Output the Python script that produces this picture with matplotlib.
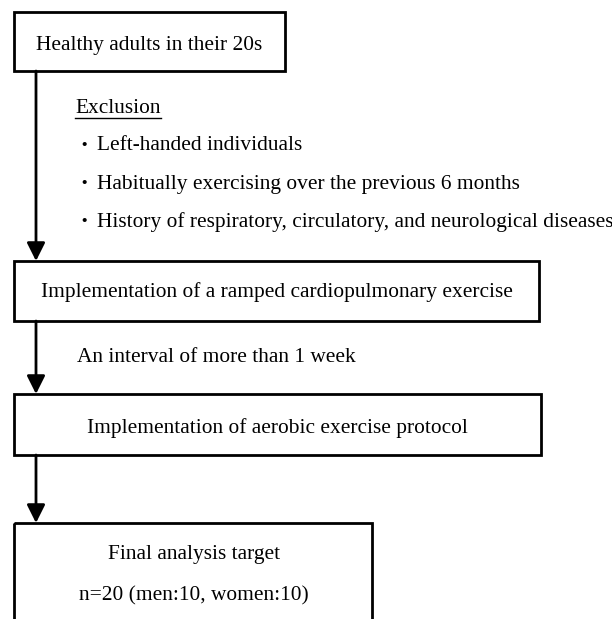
import matplotlib
matplotlib.use("Agg")
import matplotlib.pyplot as plt
from matplotlib.patches import Rectangle

# ---- content ----
box_titles = [
    "Healthy adults in their 20s",
    "Implementation of a ramped cardiopulmonary exercise",
    "Implementation of aerobic exercise protocol",
    "Final analysis target",
]
final_count = "n=20 (men:10, women:10)"
exclusion_title = "Exclusion"
exclusion_items = [
    "Left-handed individuals",
    "Habitually exercising over the previous 6 months",
    "History of respiratory, circulatory, and neurological diseases",
]
interval_label = "An interval of more than 1 week"

W, H = 612, 619
DPI = 100
fig = plt.figure(figsize=(W / DPI, H / DPI), dpi=DPI)
ax = fig.add_axes([0, 0, 1, 1])
ax.set_xlim(0, W)
ax.set_ylim(H, 0)
ax.axis("off")

FONT = "Liberation Serif"
renderer = fig.canvas.get_renderer()

# font size so the longest box label matches the reference width (~469 px)
probe = ax.text(0, 0, box_titles[1], fontsize=10, family=FONT)
w10 = probe.get_window_extent(renderer).width
probe.remove()
FS = 10 * 469 / w10

# box geometry (pixel coords): left, top, right, bottom
boxes = [
    (14, 12, 285, 71),
    (14, 261, 539, 321),
    (14, 394, 541, 455),
    (14, 523, 372, 625),
]
LW = 2.0
for (l, t, r, b) in boxes:
    ax.add_patch(Rectangle((l, t), r - l, b - t, fill=False, ec="black", lw=LW, zorder=2))

def txt(x, y, s, ha="center", **kw):
    return ax.text(x, y, s, ha=ha, va="baseline", fontsize=FS, family=FONT, **kw)

# box texts (y = baseline)
txt(149.5, 50, box_titles[0])
txt(276.5, 297.5, box_titles[1])
txt(277.5, 432.5, box_titles[2])
txt(194, 559, box_titles[3])
txt(194, 600, final_count)

# arrows
AX = 36
arrows = [(71, 261), (321, 394), (455, 523)]
for (y0, y1) in arrows:
    ax.annotate("", xy=(AX, y1), xytext=(AX, y0),
                arrowprops=dict(arrowstyle="-|>,head_length=1.1,head_width=0.55",
                                color="black", lw=LW, shrinkA=0, shrinkB=0),
                zorder=3)

# exclusion block
t = txt(75, 113, exclusion_title, ha="left")
bb = t.get_window_extent(renderer)
ax.plot([75, 75 + bb.width], [117.5, 117.5], color="black", lw=1.0)

item_base = [150, 189, 227]
for yb, item in zip(item_base, exclusion_items):
    ax.text(84, yb - 5, "・", ha="center", va="center", fontsize=FS * 0.9,
            family=["Noto Sans CJK JP", "DejaVu Sans"])
    txt(97, yb, item, ha="left")

txt(77, 361.5, interval_label, ha="left")

fig.savefig("out.png", dpi=DPI, facecolor="white")
